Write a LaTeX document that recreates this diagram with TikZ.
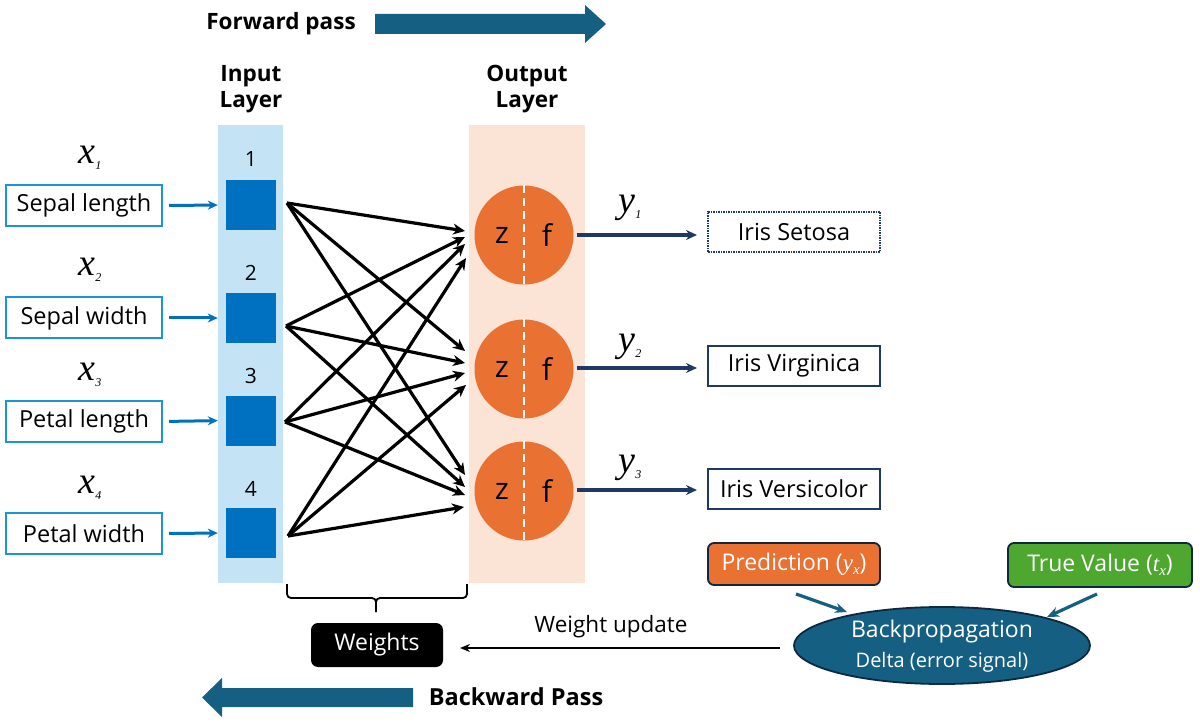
\documentclass[tikz,border=0pt]{standalone}
\usepackage{fontspec}
\setmainfont{Open Sans}
\newfontfamily\serifx{Liberation Serif}
\usetikzlibrary{arrows.meta,shapes.geometric}
\newcommand\fsz[1]{\fontsize{#1}{#1}\selectfont}
\definecolor{passblue}{HTML}{156082}
\definecolor{inband}{HTML}{C4E4F5}
\definecolor{outband}{HTML}{FBE3D6}
\definecolor{sqblue}{HTML}{0070C0}
\definecolor{inblue}{HTML}{1C95D4}
\definecolor{neuronor}{HTML}{E97132}
\definecolor{navy}{HTML}{1F3864}
\definecolor{truegreen}{HTML}{4EA72E}
\definecolor{darkedge}{HTML}{0E2841}
\newcommand\xlab[1]{{\serifx\itshape\fsz{38}x\raisebox{-6pt}{\fsz{12}#1}}}
\newcommand\ylab[1]{{\serifx\itshape\fsz{38}y\raisebox{-6pt}{\fsz{12}#1}}}
\begin{document}
\begin{tikzpicture}[x=1pt,y=-1pt,
  inbox/.style={draw=inblue, line width=2pt, minimum width=156pt, minimum height=41pt, inner sep=0pt, font=\fsz{23.5}},
  sq/.style={fill=sqblue, minimum size=50pt, inner sep=0pt},
  neuron/.style={circle, fill=neuronor, minimum size=99pt, inner sep=0pt},
  outbox/.style={draw=navy, line width=2pt, minimum width=172pt, minimum height=40pt, inner sep=0pt, font=\fsz{23.5}},
  wire/.style={line width=3.2pt, -{Stealth[length=12pt,width=11pt]}},
  feed/.style={draw=sqblue, line width=3pt, -{Stealth[length=10pt,width=9pt]}},
  outwire/.style={draw=navy, line width=3.2pt, -{Stealth[length=11pt,width=10pt]}},
  tealwire/.style={draw=passblue, line width=3.2pt, -{Stealth[length=12pt,width=10pt]}},
  bold22/.style={font=\fsz{22.5}\bfseries},
  lbl/.style={font=\fsz{22.5}},
  numlbl/.style={font=\fsz{21}}
]
\useasboundingbox (0,0) rectangle (1200,727);

% forward pass
\node[bold22] (fwd) at (281,24) {Forward pass};
\fill[passblue] (375,14) -- (585,14) -- (585,5) -- (606,24) -- (585,43) -- (585,34) -- (375,34) -- cycle;

% layer titles
\node[bold22, align=center] (inlt) at (251,89) {Input\\[4pt]Layer};
\node[bold22, align=center] (outlt) at (527,89) {Output\\[4pt]Layer};

% bands
\node[fill=inband, minimum width=65pt, minimum height=458pt, inner sep=0pt] (inb) at (250.5,354) {};
\node[fill=outband, minimum width=116pt, minimum height=458pt, inner sep=0pt] (outb) at (527,354) {};

% numbers
\node[numlbl] (k1) at (251,159) {1};
\node[numlbl] (k2) at (251,273) {2};
\node[numlbl] (k3) at (251,376) {3};
\node[numlbl] (k4) at (251,489) {4};

% input squares
\node[sq] (n1) at (251,205) {};
\node[sq] (n2) at (251,318) {};
\node[sq] (n3) at (251,420.5) {};
\node[sq] (n4) at (251,533) {};

% input boxes
\node[inbox] (in1) at (84,205.5) {Sepal length};
\node[inbox] (in2) at (84,318) {Sepal width};
\node[inbox] (in3) at (84,421.5) {Petal length};
\node[inbox] (in4) at (84,533.5) {Petal width};

\node (xl1) at (90,158) {\xlab{1}};
\node (xl2) at (90,270) {\xlab{2}};
\node (xl3) at (90,375) {\xlab{3}};
\node (xl4) at (90,488) {\xlab{4}};

\foreach \i in {1,...,4}{
  \draw[feed, shorten <=6pt, shorten >=8pt] (in\i.east) -- (n\i.west);
}

% output neurons
\node[neuron] (c1) at (524,235) {};
\node[neuron] (c2) at (524,369) {};
\node[neuron] (c3) at (524,491) {};
\foreach \j in {1,2,3}{
  \draw[white, line width=2pt, dash pattern=on 8pt off 5pt] (c\j.north) -- (c\j.south);
  \node[font=\fsz{30}] (z\j) at ([xshift=-22pt]c\j.center) {z};
  \node[font=\fsz{30}] (f\j) at ([xshift=23pt]c\j.center) {f};
}

% sources and targets
\coordinate (s1) at (287,203);
\coordinate (s2) at (286,326);
\coordinate (s3) at (285,422);
\coordinate (s4) at (288,536);
\coordinate (t11) at (465,231);
\coordinate (t21) at (465,237);
\coordinate (t31) at (465,244);
\coordinate (t41) at (466,258);
\coordinate (t12) at (465,351);
\coordinate (t22) at (465,363);
\coordinate (t32) at (465,373);
\coordinate (t42) at (466,385);
\coordinate (t13) at (465,475);
\coordinate (t23) at (465,487);
\coordinate (t33) at (465,495);
\coordinate (t43) at (464,507);
\foreach \i in {1,...,4}{
  \foreach \j in {1,2,3}{
    \draw[wire] (s\i) -- (t\i\j);
  }
}

% output boxes
\node[outbox, dash pattern=on 1.5pt off 1pt] (o1) at (794,232) {Iris Setosa};
\node[outbox] (o2) at (794,366) {Iris Virginica};
\node[outbox] (o3) at (794,489) {Iris Versicolor};
\coordinate (e1) at (697,235);
\coordinate (e2) at (697,368);
\coordinate (e3) at (697,490);
\foreach \j in {1,2,3}{
  \draw[outwire, shorten <=3pt] (c\j.east |- e\j) -- (e\j);
}
\node (yl1) at (630,208) {\ylab{1}};
\node (yl2) at (630,347) {\ylab{2}};
\node (yl3) at (630,468) {\ylab{3}};

% prediction / true value
\node[fill=neuronor, draw=darkedge, line width=1.8pt, rounded corners=6pt, minimum width=172pt, minimum height=42pt, inner sep=0pt, text=white, font=\fsz{23}] (pred) at (794,564) {Prediction ({\serifx\itshape y\raisebox{-4pt}{\fsz{15}x}})};
\node[fill=truegreen, draw=darkedge, line width=1.8pt, rounded corners=6pt, minimum width=184pt, minimum height=44pt, inner sep=0pt, text=white, font=\fsz{23}] (truev) at (1100,565) {True Value ({\serifx\itshape t\raisebox{-4pt}{\fsz{15}x}})};

% backpropagation ellipse
\node[ellipse, fill=passblue, draw=darkedge, line width=1.8pt, minimum width=296pt, minimum height=77pt, inner sep=0pt] (bp) at (942,645.5) {};
\node[text=white, font=\fsz{23}] (bpt) at (942,632) {Backpropagation};
\node[text=white, font=\fsz{20}] (bpd) at (942,662) {Delta (error signal)};

\coordinate (pa) at (796,594);
\coordinate (pe) at (847,612);
\coordinate (ta) at (1097,594);
\coordinate (te) at (1047,617);
\draw[tealwire] (pa) -- (pe);
\draw[tealwire] (ta) -- (te);

% weights
\node[fill=black, rounded corners=7pt, minimum width=132pt, minimum height=44pt, inner sep=0pt, text=white, font=\fsz{23}] (wt) at (377,645) {Weights};
\coordinate (wu) at (780,648);
\coordinate (wv) at (460,648);
\draw[line width=2.4pt, -{Stealth[length=10pt,width=8pt]}] (wu) -- (wv);
\node[lbl] (wul) at (611,627) {Weight update};

% brace
\draw[line width=1.8pt, rounded corners=4pt] (287,584) -- (287,598) -- (376,598) -- (376,612);
\draw[line width=1.8pt, rounded corners=4pt] (376,612) -- (376,598) -- (467,598) -- (467,584);

% backward pass
\fill[passblue] (413,688) -- (222,688) -- (222,678) -- (202,697.5) -- (222,717) -- (222,707) -- (413,707) -- cycle;
\node[bold22, font=\fsz{23.5}\bfseries] (bwd) at (516,697) {Backward Pass};
\end{tikzpicture}
\end{document}
